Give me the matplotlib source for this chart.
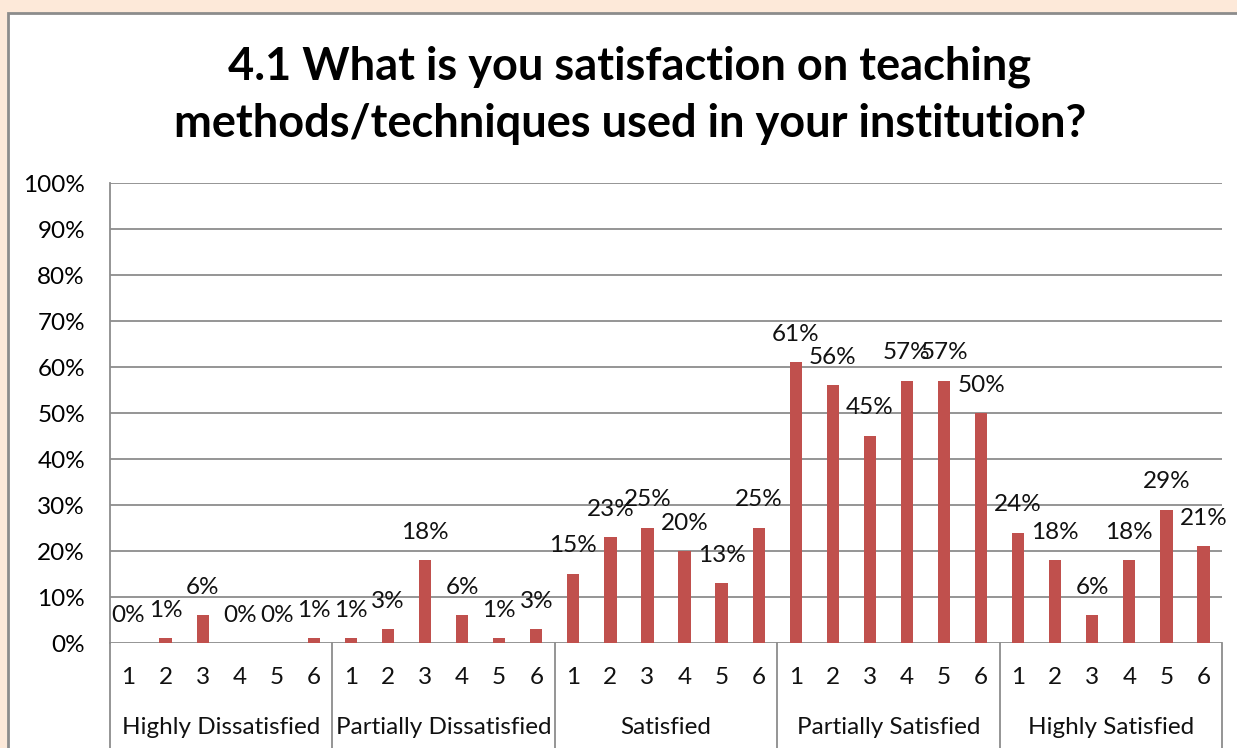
import matplotlib.pyplot as plt
from matplotlib.patches import Rectangle
from matplotlib.ticker import PercentFormatter

plt.rcParams["font.family"] = ["Lato", "DejaVu Sans"]

groups = ["Highly Dissatisfied", "Partially Dissatisfied", "Satisfied",
          "Partially Satisfied", "Highly Satisfied"]
items = ["1", "2", "3", "4", "5", "6"]
highly_dissatisfied = [0, 1, 6, 0, 0, 1]
partially_dissatisfied = [1, 3, 18, 6, 1, 3]
satisfied = [15, 23, 25, 20, 13, 25]
partially_satisfied = [61, 56, 45, 57, 57, 50]
highly_satisfied = [24, 18, 6, 18, 29, 21]

values = (highly_dissatisfied + partially_dissatisfied + satisfied
          + partially_satisfied + highly_satisfied)
values = [v / 100 for v in values]
n = len(items)
xs = list(range(len(values)))

W, H = 1237, 748
fig = plt.figure(figsize=(W / 100, H / 100), dpi=100)
fig.patch.set_facecolor("#FDE9D9")
fig.patches.append(Rectangle((8 / W, -0.05), 1.1, (748 - 13) / H + 0.05,
                             transform=fig.transFigure, facecolor="white",
                             edgecolor="#8C8C8C", linewidth=2, zorder=-5))

ax = fig.add_axes([110 / W, 1 - 643 / H, (1222 - 110) / W, (643 - 183) / H])
ax.set_facecolor("white")
ax.bar(xs, values, width=0.33, color="#C0504D", zorder=3)
for x, v in zip(xs, values):
    ax.annotate(f"{round(v * 100)}%", (x, v), xytext=(0, 28), textcoords="offset pixels",
                ha="center", va="center", fontsize=17.5, color="#111111")

ax.set_ylim(0, 1)
ax.set_xlim(-0.5, len(values) - 0.5)
ax.set_yticks([i / 10 for i in range(11)])
ax.yaxis.set_major_formatter(PercentFormatter(1.0, decimals=0))
ax.grid(axis="y", color="#8C8C8C", linewidth=1.3, zorder=0)
ax.set_axisbelow(True)
ax.tick_params(axis="y", length=0, labelsize=17.5, pad=18)
for s in ["top", "right", "bottom"]:
    ax.spines[s].set_visible(False)
ax.spines["left"].set_color("#8C8C8C")
ax.spines["left"].set_linewidth(1.3)

ax.set_xticks([])
trans = ax.get_xaxis_transform()
for i, g in enumerate(groups):
    for j, it in enumerate(items):
        ax.text(i * n + j, -34 / 460, it, transform=trans, ha="center", va="center",
                fontsize=17.5, color="#111111")
    ax.text(i * n + (n - 1) / 2, -85 / 460, g, transform=trans, ha="center",
            va="center", fontsize=17.5, color="#111111")
for b in range(len(groups) + 1):
    ax.plot([b * n - 0.5] * 2, [0, -0.25], transform=trans, color="#8C8C8C",
            linewidth=1.3, clip_on=False)

fig.text(630 / W, 1 - 95 / H,
         "4.1 What is you satisfaction on teaching\nmethods/techniques used in your institution?",
         ha="center", va="center", fontsize=32.5, fontweight="bold", linespacing=1.45)

fig.savefig("out.png", dpi=100, facecolor=fig.get_facecolor())
